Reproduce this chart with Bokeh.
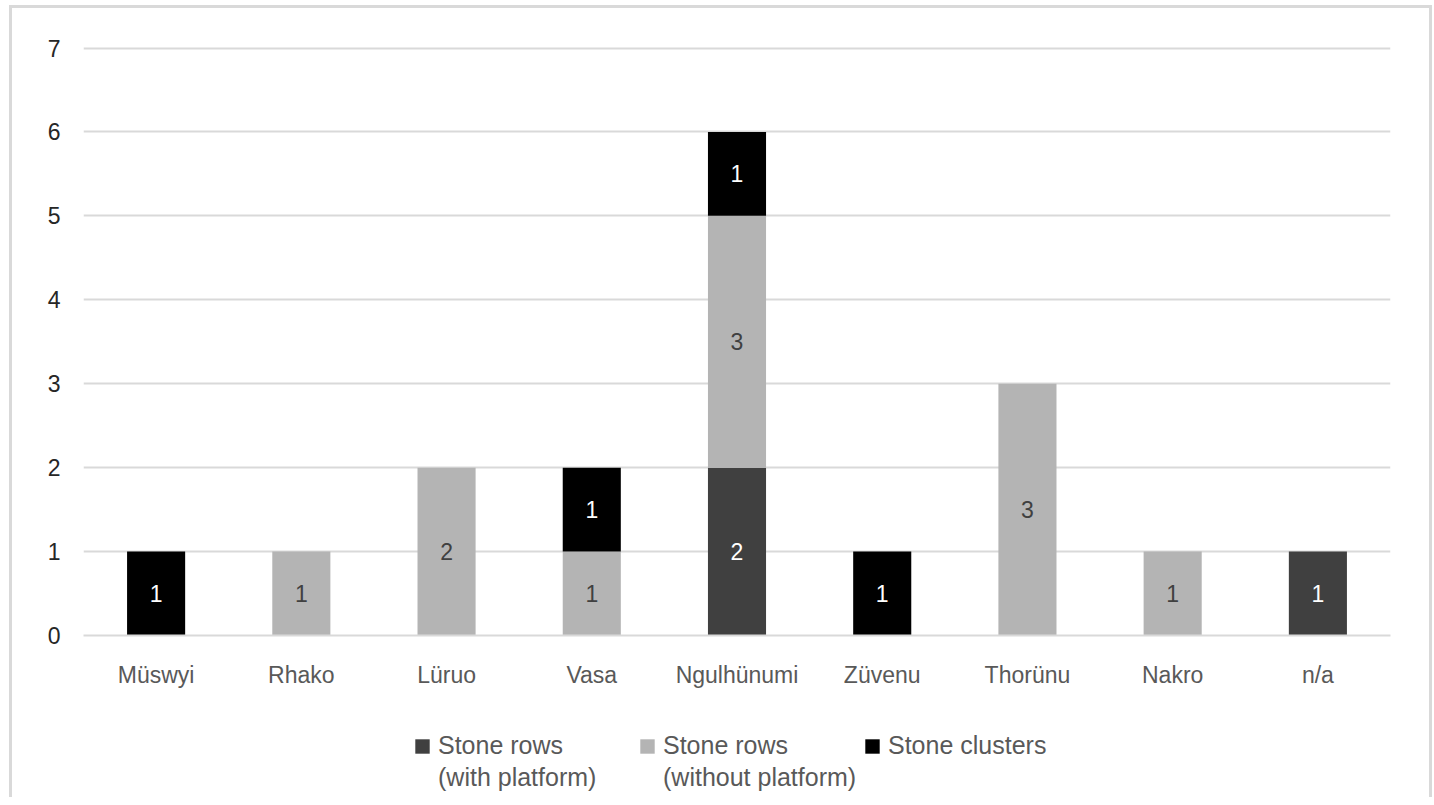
from bokeh.plotting import figure
from bokeh.layouts import column
from bokeh.models import ColumnDataSource, Legend, LegendItem, FixedTicker, Range1d
from bokeh.core.properties import value
from bokeh.embed import file_html
from bokeh.resources import INLINE

categories = ["Müswyi", "Rhako", "Lüruo", "Vasa", "Ngulhünumi", "Züvenu", "Thorünu", "Nakro", "n/a"]
with_platform = [0, 0, 0, 0, 2, 0, 0, 0, 1]
without_platform = [0, 1, 2, 1, 3, 0, 3, 1, 0]
clusters = [1, 0, 0, 1, 1, 1, 0, 0, 0]
series_line1 = ["Stone rows", "Stone rows", "Stone clusters"]
series_line2 = ["(with platform)", "(without platform)", ""]
series_keys = ["with_platform", "without_platform", "clusters"]
colors = ["#404040", "#b4b4b4", "#000000"]
label_colors = ["#ffffff", "#404040", "#ffffff"]
y_ticks = [0, 1, 2, 3, 4, 5, 6, 7]

FONT = "Liberation Sans"

data = dict(cat=categories, with_platform=with_platform,
            without_platform=without_platform, clusters=clusters)
src = ColumnDataSource(data)

p = figure(x_range=categories, y_range=(0, 7.03), frame_width=1307, frame_height=590,
           output_backend="svg", toolbar_location=None,
           min_border_left=71, min_border_right=39, min_border_top=37,
           min_border_bottom=60)

renderers = p.vbar_stack(series_keys, x="cat", width=0.4, color=colors,
                         source=src, line_color=None)

# segment labels
lx, ly, lt, lc = [], [], [], []
for i, c in enumerate(categories):
    base = 0
    for key, col in zip(series_keys, label_colors):
        v = data[key][i]
        if v:
            lx.append(c)
            ly.append(base + v / 2)
            lt.append(str(v))
            lc.append(col)
        base += v
lsrc = ColumnDataSource(dict(x=lx, y=ly, t=lt, c=lc))
p.text(x="x", y="y", text="t", text_color="c", source=lsrc,
       text_align="center", text_baseline="middle",
       text_font=value(FONT), text_font_size="23px")

p.xgrid.grid_line_color = None
p.ygrid.grid_line_color = "#d9d9d9"
p.ygrid.grid_line_width = 2
p.yaxis.ticker = FixedTicker(ticks=y_ticks)
p.yaxis.axis_line_color = None
p.yaxis.major_tick_line_color = None
p.yaxis.minor_tick_line_color = None
p.yaxis.major_label_text_font = FONT
p.yaxis.major_label_text_font_size = "23px"
p.yaxis.major_label_text_color = "#262626"
p.yaxis.major_label_standoff = 17

p.xaxis.axis_line_color = "#d9d9d9"
p.xaxis.axis_line_width = 2
p.xaxis.major_tick_line_color = None
p.xaxis.minor_tick_line_color = None
p.xaxis.major_label_text_font = FONT
p.xaxis.major_label_text_font_size = "23px"
p.xaxis.major_label_text_color = "#595959"
p.xaxis.major_label_standoff = 20
p.x_range.range_padding = 0
p.outline_line_color = None

# legend panel (same series as hidden renderers; used only for legend swatches)
p2 = figure(x_range=p.x_range, y_range=Range1d(-2, -1), frame_width=1307,
            frame_height=102, output_backend="svg", toolbar_location=None,
            x_axis_type=None, y_axis_type=None,
            min_border_left=71, min_border_right=39, min_border_top=0,
            min_border_bottom=0)
p2.grid.visible = False
p2.outline_line_color = None
shown = p2.vbar_stack(series_keys, x="cat", width=0.4, color=colors,
                      source=src, line_color=None)
hidden = p2.vbar_stack(series_keys, x="cat", width=0.4, color=colors,
                       source=src, line_color=None, fill_alpha=0)
for r in shown + hidden:
    r.visible = False

common = dict(orientation="horizontal", label_text_font=FONT,
              label_text_font_size="25px", label_text_color="#595959",
              glyph_width=18, glyph_height=18, spacing=0, label_standoff=7,
              label_width=200, border_line_color=None,
              background_fill_alpha=0, padding=0, margin=0,
              inactive_fill_alpha=0)
legend1 = Legend(items=[LegendItem(label=n, renderers=[r]) for n, r in zip(series_line1, shown)],
                 location=(330, 37), **common)
legend2 = Legend(items=[LegendItem(label=n, renderers=[r])
                        for n, r in zip(series_line2, hidden) if n],
                 location=(330, 5), **common)
p2.add_layout(legend1, "center")
p2.add_layout(legend2, "center")

layout = column(p, p2, spacing=0)
layout.styles = {"margin-left": "9px", "margin-top": "5px",
                 "border-left": "3px solid #d9d9d9", "border-top": "3px solid #d9d9d9",
                 "border-right": "3px solid #d9d9d9"}

open("out.html", "w").write(file_html(layout, INLINE))
